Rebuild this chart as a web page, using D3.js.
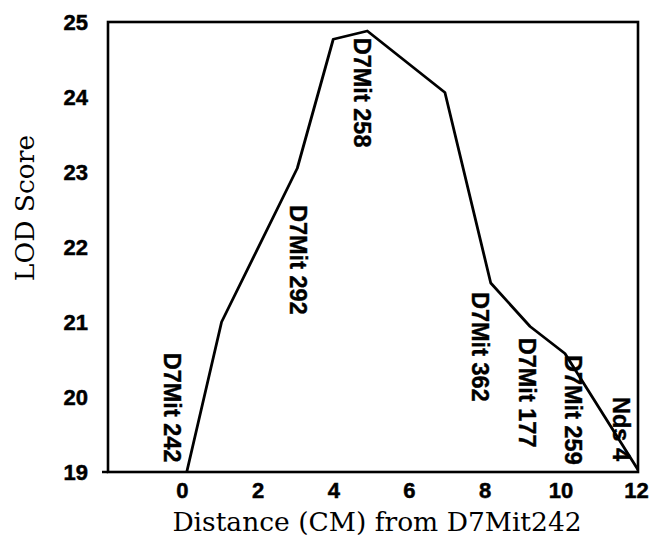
<!DOCTYPE html>
<html>
<head>
<meta charset="utf-8">
<script src="https://cdn.jsdelivr.net/npm/d3@7"></script>
<style>
  html, body { margin: 0; padding: 0; background: #fff; }
  svg { display: block; }
</style>
</head>
<body>
<svg id="chart" width="658" height="543"></svg>
<script>
// ---- data ----
const distanceCM = [0.13, 1.05, 3.05, 4.0, 4.9, 6.95, 8.16, 9.2, 10.12, 12.05];
const lodScore   = [19.0, 21.0, 23.05, 24.77, 24.88, 24.06, 21.52, 20.94, 20.58, 19.03];

const markerNames = ["D7Mit 242", "D7Mit 292", "D7Mit 258", "D7Mit 362", "D7Mit 177", "D7Mit 259", "Nds 4"];
const markerCM    = [-0.25, 3.07, 4.77, 7.87, 9.12, 10.33, 11.6];
const markerLOD   = [20.59, 22.56, 24.79, 21.4, 20.79, 20.56, 20.0];

const xTicks = [0, 2, 4, 6, 8, 10, 12];
const yTicks = [19, 20, 21, 22, 23, 24, 25];

const xTitle = "Distance (CM) from D7Mit242";
const yTitle = "LOD Score";

// ---- layout ----
(function () {
const svg = d3.select("#chart");
const mLeft = 108, mRight = 638, mTop = 22, mBottom = 472;

const x = d3.scaleLinear().domain([-1.95, 12.05]).range([mLeft, mRight]);
const y = d3.scaleLinear().domain([19, 25]).range([mBottom, mTop]);

const tickFont = "'Liberation Sans', Arial, Helvetica, sans-serif";
const serifFont = "'DejaVu Serif', 'Bookman', serif";

// y axis labels
const yAxis = d3.axisLeft(y).tickValues(yTicks).tickSize(0).tickPadding(20).tickFormat(d3.format("d"));
const gy = svg.append("g").attr("transform", `translate(${mLeft},0)`).call(yAxis);
gy.select(".domain").remove();
gy.selectAll("text")
  .attr("font-family", tickFont).attr("font-weight", "bold").attr("font-size", 22)
  .attr("fill", "#000").attr("stroke", "#000").attr("stroke-width", 0.5);

// x axis labels
const xAxis = d3.axisBottom(x).tickValues(xTicks).tickSize(0).tickPadding(10).tickFormat(d3.format("d"));
const gx = svg.append("g").attr("transform", `translate(0,${mBottom})`).call(xAxis);
gx.select(".domain").remove();
gx.selectAll("text")
  .attr("font-family", tickFont).attr("font-weight", "bold").attr("font-size", 22)
  .attr("fill", "#000").attr("stroke", "#000").attr("stroke-width", 0.5);

// small tick at the lowest y value
svg.append("line")
  .attr("x1", mLeft - 6).attr("x2", mLeft)
  .attr("y1", y(yTicks[0])).attr("y2", y(yTicks[0]))
  .attr("stroke", "#000").attr("stroke-width", 2.5);

// frame
svg.append("rect")
  .attr("x", mLeft).attr("y", mTop)
  .attr("width", mRight - mLeft).attr("height", mBottom - mTop)
  .attr("fill", "none").attr("stroke", "#000").attr("stroke-width", 2.6);

// data line
const pts = distanceCM.map((d, i) => [d, lodScore[i]]);
const line = d3.line().x(d => x(d[0])).y(d => y(d[1]));
svg.append("path")
  .attr("d", line(pts))
  .attr("fill", "none").attr("stroke", "#000").attr("stroke-width", 2.8)
  .attr("stroke-linejoin", "round");

// marker labels (rotated, reading top to bottom)
svg.append("g").selectAll("text")
  .data(markerNames)
  .join("text")
  .attr("transform", (d, i) => `translate(${x(markerCM[i])},${y(markerLOD[i])}) rotate(90)`)
  .attr("text-anchor", "start")
  .attr("dominant-baseline", "central")
  .attr("font-family", tickFont).attr("font-weight", "bold").attr("font-size", 23.5)
  .attr("fill", "#000").attr("stroke", "#000").attr("stroke-width", 0.4)
  .text(d => d);

// axis titles
svg.append("text")
  .attr("transform", `translate(34,208) rotate(-90)`)
  .attr("text-anchor", "middle")
  .attr("font-family", serifFont).attr("font-size", 26.5)
  .attr("fill", "#000")
  .text(yTitle);

svg.append("text")
  .attr("x", 377).attr("y", 531)
  .attr("text-anchor", "middle")
  .attr("font-family", serifFont).attr("font-size", 26.5)
  .attr("fill", "#000")
  .text(xTitle);
})();
</script>
</body>
</html>
